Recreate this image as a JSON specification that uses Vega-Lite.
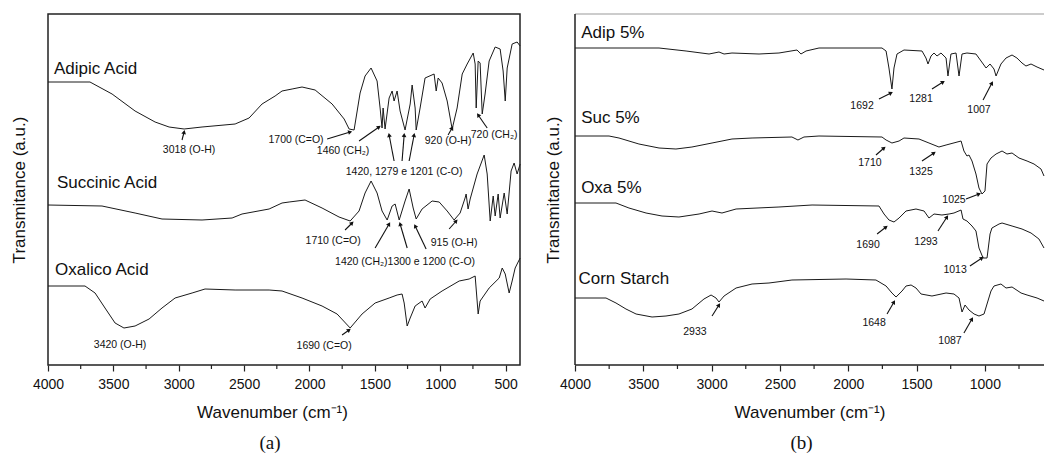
{
"$schema": "https://vega.github.io/schema/vega-lite/v6.json",
"padding": {"left": 9, "top": 13, "right": 0, "bottom": 0},
"autosize": {"type": "pad"},
"spacing": 21,
"config": {"view": {"stroke": null}, "font": "Liberation Sans", "axis": {"grid": false, "labelFont": "Liberation Sans", "titleFont": "Liberation Sans", "titleFontWeight": "normal", "labelColor": "#111", "titleColor": "#111", "tickColor": "#222"}},
"datasets": {
"ca": [
{"s":"Adipic","w":4000,"v":283},{"s":"Adipic","w":3679,"v":283},{"s":"Adipic","w":3510,"v":271},{"s":"Adipic","w":3334,"v":254},{"s":"Adipic","w":3181,"v":243},{"s":"Adipic","w":3074,"v":238},{"s":"Adipic","w":2959,"v":236},{"s":"Adipic","w":2822,"v":238},{"s":"Adipic","w":2569,"v":241},{"s":"Adipic","w":2462,"v":247},{"s":"Adipic","w":2363,"v":261},{"s":"Adipic","w":2263,"v":269},{"s":"Adipic","w":2210,"v":274},{"s":"Adipic","w":2133,"v":276},{"s":"Adipic","w":2057,"v":278},{"s":"Adipic","w":1957,"v":275},{"s":"Adipic","w":1827,"v":261},{"s":"Adipic","w":1735,"v":246},{"s":"Adipic","w":1697,"v":236},{"s":"Adipic","w":1659,"v":235},{"s":"Adipic","w":1613,"v":272},{"s":"Adipic","w":1575,"v":289},{"s":"Adipic","w":1529,"v":297},{"s":"Adipic","w":1483,"v":284},{"s":"Adipic","w":1460,"v":257},{"s":"Adipic","w":1445,"v":237},{"s":"Adipic","w":1437,"v":257},{"s":"Adipic","w":1422,"v":236},{"s":"Adipic","w":1391,"v":267},{"s":"Adipic","w":1368,"v":274},{"s":"Adipic","w":1353,"v":264},{"s":"Adipic","w":1330,"v":274},{"s":"Adipic","w":1307,"v":254},{"s":"Adipic","w":1269,"v":235},{"s":"Adipic","w":1230,"v":261},{"s":"Adipic","w":1215,"v":280},{"s":"Adipic","w":1192,"v":257},{"s":"Adipic","w":1184,"v":235},{"s":"Adipic","w":1154,"v":257},{"s":"Adipic","w":1116,"v":287},{"s":"Adipic","w":1047,"v":291},{"s":"Adipic","w":1031,"v":274},{"s":"Adipic","w":1016,"v":287},{"s":"Adipic","w":986,"v":282},{"s":"Adipic","w":947,"v":264},{"s":"Adipic","w":909,"v":236},{"s":"Adipic","w":871,"v":257},{"s":"Adipic","w":832,"v":291},{"s":"Adipic","w":794,"v":301},{"s":"Adipic","w":748,"v":312},{"s":"Adipic","w":733,"v":301},{"s":"Adipic","w":725,"v":257},{"s":"Adipic","w":710,"v":304},{"s":"Adipic","w":695,"v":302},{"s":"Adipic","w":679,"v":251},{"s":"Adipic","w":657,"v":271},{"s":"Adipic","w":626,"v":304},{"s":"Adipic","w":580,"v":318},{"s":"Adipic","w":542,"v":316},{"s":"Adipic","w":519,"v":294},{"s":"Adipic","w":503,"v":264},{"s":"Adipic","w":488,"v":297},{"s":"Adipic","w":450,"v":321},{"s":"Adipic","w":412,"v":323},{"s":"Adipic","w":389,"v":319},
{"s":"Succinic","w":4000,"v":160},{"s":"Succinic","w":3587,"v":159},{"s":"Succinic","w":3334,"v":152},{"s":"Succinic","w":3128,"v":146},{"s":"Succinic","w":2822,"v":145},{"s":"Succinic","w":2592,"v":147},{"s":"Succinic","w":2516,"v":151},{"s":"Succinic","w":2309,"v":156},{"s":"Succinic","w":2210,"v":162},{"s":"Succinic","w":2156,"v":163},{"s":"Succinic","w":2034,"v":165},{"s":"Succinic","w":1904,"v":157},{"s":"Succinic","w":1774,"v":148},{"s":"Succinic","w":1689,"v":144},{"s":"Succinic","w":1621,"v":154},{"s":"Succinic","w":1575,"v":172},{"s":"Succinic","w":1529,"v":184},{"s":"Succinic","w":1483,"v":172},{"s":"Succinic","w":1445,"v":154},{"s":"Succinic","w":1406,"v":145},{"s":"Succinic","w":1368,"v":159},{"s":"Succinic","w":1345,"v":161},{"s":"Succinic","w":1314,"v":145},{"s":"Succinic","w":1269,"v":164},{"s":"Succinic","w":1238,"v":176},{"s":"Succinic","w":1207,"v":157},{"s":"Succinic","w":1184,"v":146},{"s":"Succinic","w":1139,"v":156},{"s":"Succinic","w":1062,"v":164},{"s":"Succinic","w":1008,"v":163},{"s":"Succinic","w":947,"v":154},{"s":"Succinic","w":894,"v":145},{"s":"Succinic","w":848,"v":152},{"s":"Succinic","w":810,"v":167},{"s":"Succinic","w":802,"v":171},{"s":"Succinic","w":787,"v":156},{"s":"Succinic","w":771,"v":166},{"s":"Succinic","w":718,"v":191},{"s":"Succinic","w":664,"v":210},{"s":"Succinic","w":641,"v":191},{"s":"Succinic","w":618,"v":144},{"s":"Succinic","w":595,"v":169},{"s":"Succinic","w":580,"v":149},{"s":"Succinic","w":557,"v":171},{"s":"Succinic","w":542,"v":147},{"s":"Succinic","w":511,"v":172},{"s":"Succinic","w":488,"v":151},{"s":"Succinic","w":458,"v":194},{"s":"Succinic","w":435,"v":202},{"s":"Succinic","w":412,"v":191},{"s":"Succinic","w":389,"v":201},
{"s":"Oxalic","w":4000,"v":79},{"s":"Oxalic","w":3717,"v":79},{"s":"Oxalic","w":3640,"v":72},{"s":"Oxalic","w":3564,"v":57},{"s":"Oxalic","w":3487,"v":42},{"s":"Oxalic","w":3419,"v":37},{"s":"Oxalic","w":3334,"v":39},{"s":"Oxalic","w":3227,"v":46},{"s":"Oxalic","w":3128,"v":57},{"s":"Oxalic","w":3028,"v":67},{"s":"Oxalic","w":2898,"v":72},{"s":"Oxalic","w":2799,"v":76},{"s":"Oxalic","w":2569,"v":75},{"s":"Oxalic","w":2309,"v":75},{"s":"Oxalic","w":2210,"v":74},{"s":"Oxalic","w":2057,"v":67},{"s":"Oxalic","w":1904,"v":59},{"s":"Oxalic","w":1789,"v":51},{"s":"Oxalic","w":1689,"v":37},{"s":"Oxalic","w":1598,"v":51},{"s":"Oxalic","w":1498,"v":62},{"s":"Oxalic","w":1391,"v":67},{"s":"Oxalic","w":1330,"v":70},{"s":"Oxalic","w":1292,"v":71},{"s":"Oxalic","w":1276,"v":62},{"s":"Oxalic","w":1253,"v":39},{"s":"Oxalic","w":1230,"v":47},{"s":"Oxalic","w":1192,"v":59},{"s":"Oxalic","w":1139,"v":64},{"s":"Oxalic","w":1116,"v":57},{"s":"Oxalic","w":1077,"v":66},{"s":"Oxalic","w":986,"v":74},{"s":"Oxalic","w":855,"v":84},{"s":"Oxalic","w":779,"v":86},{"s":"Oxalic","w":733,"v":89},{"s":"Oxalic","w":710,"v":51},{"s":"Oxalic","w":695,"v":64},{"s":"Oxalic","w":626,"v":77},{"s":"Oxalic","w":549,"v":87},{"s":"Oxalic","w":526,"v":97},{"s":"Oxalic","w":503,"v":91},{"s":"Oxalic","w":473,"v":72},{"s":"Oxalic","w":450,"v":84},{"s":"Oxalic","w":427,"v":97},{"s":"Oxalic","w":389,"v":107}
],
"cb": [
{"s":"Adip","w":4000,"v":317},{"s":"Adip","w":3385,"v":317},{"s":"Adip","w":3187,"v":314},{"s":"Adip","w":3019,"v":311},{"s":"Adip","w":2946,"v":313},{"s":"Adip","w":2909,"v":311},{"s":"Adip","w":2851,"v":312},{"s":"Adip","w":2653,"v":311},{"s":"Adip","w":2507,"v":312},{"s":"Adip","w":2375,"v":315},{"s":"Adip","w":2346,"v":311},{"s":"Adip","w":2309,"v":314},{"s":"Adip","w":2214,"v":317},{"s":"Adip","w":1753,"v":317},{"s":"Adip","w":1723,"v":314},{"s":"Adip","w":1702,"v":297},{"s":"Adip","w":1680,"v":276},{"s":"Adip","w":1665,"v":297},{"s":"Adip","w":1643,"v":311},{"s":"Adip","w":1592,"v":315},{"s":"Adip","w":1460,"v":314},{"s":"Adip","w":1431,"v":307},{"s":"Adip","w":1416,"v":301},{"s":"Adip","w":1394,"v":309},{"s":"Adip","w":1372,"v":312},{"s":"Adip","w":1350,"v":309},{"s":"Adip","w":1321,"v":312},{"s":"Adip","w":1284,"v":307},{"s":"Adip","w":1270,"v":289},{"s":"Adip","w":1248,"v":311},{"s":"Adip","w":1211,"v":312},{"s":"Adip","w":1189,"v":289},{"s":"Adip","w":1167,"v":311},{"s":"Adip","w":1131,"v":312},{"s":"Adip","w":1065,"v":311},{"s":"Adip","w":1028,"v":304},{"s":"Adip","w":991,"v":297},{"s":"Adip","w":962,"v":301},{"s":"Adip","w":933,"v":296},{"s":"Adip","w":918,"v":289},{"s":"Adip","w":882,"v":301},{"s":"Adip","w":845,"v":307},{"s":"Adip","w":801,"v":310},{"s":"Adip","w":765,"v":307},{"s":"Adip","w":728,"v":302},{"s":"Adip","w":699,"v":299},{"s":"Adip","w":662,"v":301},{"s":"Adip","w":618,"v":298},{"s":"Adip","w":567,"v":295},
{"s":"Suc","w":4000,"v":229},{"s":"Suc","w":3751,"v":229},{"s":"Suc","w":3678,"v":227},{"s":"Suc","w":3532,"v":221},{"s":"Suc","w":3385,"v":217},{"s":"Suc","w":3261,"v":216},{"s":"Suc","w":3144,"v":218},{"s":"Suc","w":2997,"v":222},{"s":"Suc","w":2851,"v":226},{"s":"Suc","w":2704,"v":227},{"s":"Suc","w":2412,"v":228},{"s":"Suc","w":2368,"v":225},{"s":"Suc","w":2324,"v":228},{"s":"Suc","w":2214,"v":229},{"s":"Suc","w":1753,"v":228},{"s":"Suc","w":1723,"v":225},{"s":"Suc","w":1680,"v":222},{"s":"Suc","w":1628,"v":224},{"s":"Suc","w":1592,"v":227},{"s":"Suc","w":1482,"v":226},{"s":"Suc","w":1409,"v":222},{"s":"Suc","w":1336,"v":218},{"s":"Suc","w":1284,"v":220},{"s":"Suc","w":1174,"v":224},{"s":"Suc","w":1153,"v":214},{"s":"Suc","w":1131,"v":209},{"s":"Suc","w":1116,"v":210},{"s":"Suc","w":1094,"v":204},{"s":"Suc","w":1065,"v":191},{"s":"Suc","w":1043,"v":177},{"s":"Suc","w":1021,"v":171},{"s":"Suc","w":999,"v":174},{"s":"Suc","w":984,"v":201},{"s":"Suc","w":955,"v":207},{"s":"Suc","w":918,"v":211},{"s":"Suc","w":874,"v":214},{"s":"Suc","w":838,"v":211},{"s":"Suc","w":801,"v":212},{"s":"Suc","w":750,"v":207},{"s":"Suc","w":691,"v":204},{"s":"Suc","w":640,"v":201},{"s":"Suc","w":589,"v":196},{"s":"Suc","w":567,"v":189},
{"s":"Oxa","w":4000,"v":162},{"s":"Oxa","w":3700,"v":162},{"s":"Oxa","w":3605,"v":157},{"s":"Oxa","w":3480,"v":152},{"s":"Oxa","w":3363,"v":149},{"s":"Oxa","w":3239,"v":148},{"s":"Oxa","w":3092,"v":151},{"s":"Oxa","w":2997,"v":154},{"s":"Oxa","w":2924,"v":152},{"s":"Oxa","w":2821,"v":156},{"s":"Oxa","w":2507,"v":158},{"s":"Oxa","w":2265,"v":160},{"s":"Oxa","w":1775,"v":159},{"s":"Oxa","w":1738,"v":151},{"s":"Oxa","w":1702,"v":145},{"s":"Oxa","w":1665,"v":143},{"s":"Oxa","w":1628,"v":147},{"s":"Oxa","w":1577,"v":154},{"s":"Oxa","w":1504,"v":156},{"s":"Oxa","w":1445,"v":154},{"s":"Oxa","w":1409,"v":147},{"s":"Oxa","w":1372,"v":151},{"s":"Oxa","w":1314,"v":150},{"s":"Oxa","w":1262,"v":151},{"s":"Oxa","w":1226,"v":152},{"s":"Oxa","w":1174,"v":155},{"s":"Oxa","w":1160,"v":146},{"s":"Oxa","w":1131,"v":144},{"s":"Oxa","w":1094,"v":139},{"s":"Oxa","w":1065,"v":134},{"s":"Oxa","w":1043,"v":117},{"s":"Oxa","w":1013,"v":107},{"s":"Oxa","w":984,"v":107},{"s":"Oxa","w":962,"v":131},{"s":"Oxa","w":948,"v":137},{"s":"Oxa","w":896,"v":141},{"s":"Oxa","w":874,"v":142},{"s":"Oxa","w":801,"v":139},{"s":"Oxa","w":728,"v":136},{"s":"Oxa","w":662,"v":132},{"s":"Oxa","w":604,"v":126},{"s":"Oxa","w":567,"v":117},
{"s":"Corn","w":4000,"v":67},{"s":"Corn","w":3773,"v":67},{"s":"Corn","w":3700,"v":62},{"s":"Corn","w":3627,"v":56},{"s":"Corn","w":3553,"v":51},{"s":"Corn","w":3436,"v":48},{"s":"Corn","w":3334,"v":49},{"s":"Corn","w":3239,"v":51},{"s":"Corn","w":3144,"v":56},{"s":"Corn","w":3056,"v":66},{"s":"Corn","w":3004,"v":70},{"s":"Corn","w":2968,"v":67},{"s":"Corn","w":2946,"v":63},{"s":"Corn","w":2909,"v":69},{"s":"Corn","w":2821,"v":77},{"s":"Corn","w":2704,"v":81},{"s":"Corn","w":2580,"v":82},{"s":"Corn","w":2412,"v":85},{"s":"Corn","w":2016,"v":86},{"s":"Corn","w":1797,"v":85},{"s":"Corn","w":1723,"v":79},{"s":"Corn","w":1680,"v":72},{"s":"Corn","w":1650,"v":68},{"s":"Corn","w":1606,"v":74},{"s":"Corn","w":1577,"v":79},{"s":"Corn","w":1540,"v":80},{"s":"Corn","w":1504,"v":77},{"s":"Corn","w":1467,"v":71},{"s":"Corn","w":1387,"v":69},{"s":"Corn","w":1284,"v":72},{"s":"Corn","w":1226,"v":71},{"s":"Corn","w":1189,"v":67},{"s":"Corn","w":1167,"v":53},{"s":"Corn","w":1145,"v":60},{"s":"Corn","w":1116,"v":55},{"s":"Corn","w":1079,"v":51},{"s":"Corn","w":1043,"v":49},{"s":"Corn","w":1006,"v":51},{"s":"Corn","w":984,"v":61},{"s":"Corn","w":955,"v":74},{"s":"Corn","w":933,"v":79},{"s":"Corn","w":882,"v":81},{"s":"Corn","w":845,"v":77},{"s":"Corn","w":801,"v":78},{"s":"Corn","w":735,"v":72},{"s":"Corn","w":691,"v":70},{"s":"Corn","w":618,"v":67},{"s":"Corn","w":567,"v":64}
],
"na": [
{"w":3954,"v":291,"t":"Adipic Acid"},{"w":3931,"v":177,"t":"Succinic Acid"},{"w":3946,"v":90,"t":"Oxalico Acid"}
],
"nb": [
{"w":3955,"v":327,"t":"Adip 5%"},{"w":3955,"v":242,"t":"Suc 5%"},{"w":3955,"v":172,"t":"Oxa 5%"},{"w":3975,"v":81,"t":"Corn Starch"}
],
"ta": [
{"w":2921,"v":212,"t":"3018 (O-H)"},{"w":2103,"v":222,"t":"1700 (C=O)"},{"w":1743,"v":211,"t":"1460 (CH₂)"},{"w":1276,"v":190,"t":"1420, 1279 e 1201 (C-O)"},{"w":940,"v":221,"t":"920 (O-H)"},{"w":588,"v":227,"t":"720 (CH₂)"},{"w":1819,"v":121,"t":"1710 (C=O)"},{"w":894,"v":119,"t":"915 (O-H)"},{"w":1269,"v":100,"t":"1420 (CH₂)1300 e 1200 (C-O)"},{"w":3449,"v":17,"t":"3420 (O-H)"},{"w":1888,"v":16,"t":"1690 (C=O)"}
],
"tb": [
{"w":1899,"v":256,"t":"1692"},{"w":1467,"v":263,"t":"1281"},{"w":1043,"v":252,"t":"1007"},{"w":1841,"v":199,"t":"1710"},{"w":1467,"v":190,"t":"1325"},{"w":1226,"v":162,"t":"1025"},{"w":1855,"v":117,"t":"1690"},{"w":1431,"v":120,"t":"1293"},{"w":1218,"v":92,"t":"1013"},{"w":3122,"v":30,"t":"2933"},{"w":1811,"v":39,"t":"1648"},{"w":1255,"v":21,"t":"1087"}
],
"aa": [
{"w":2975,"v":225,"wt":2959,"vt":233,"ang":14},{"w":1865,"v":226,"wt":1689,"vt":233,"ang":73},{"w":1621,"v":224,"wt":1468,"vt":238,"ang":55},{"w":1353,"v":204,"wt":1391,"vt":230,"ang":-11},{"w":1292,"v":204,"wt":1276,"vt":230,"ang":4},{"w":1238,"v":204,"wt":1200,"vt":230,"ang":11},{"w":940,"v":230,"wt":909,"vt":237,"ang":30},{"w":641,"v":237,"wt":710,"vt":250,"ang":-35},{"w":1728,"v":135,"wt":1674,"vt":142,"ang":45},{"w":932,"v":136,"wt":878,"vt":144,"ang":41},{"w":1498,"v":117,"wt":1391,"vt":141,"ang":30},{"w":1253,"v":117,"wt":1307,"vt":141,"ang":-16},{"w":1108,"v":116,"wt":1192,"vt":139,"ang":-26},{"w":1751,"v":30,"wt":1697,"vt":35,"ang":54}
],
"ab": [
{"w":1775,"v":266,"wt":1687,"vt":272,"ang":63},{"w":1387,"v":276,"wt":1306,"vt":283,"ang":58},{"w":1013,"v":265,"wt":948,"vt":282,"ang":28},{"w":1797,"v":210,"wt":1738,"vt":217,"ang":49},{"w":1460,"v":204,"wt":1372,"vt":212,"ang":56},{"w":1138,"v":166,"wt":1043,"vt":171,"ang":69},{"w":1789,"v":131,"wt":1723,"vt":138,"ang":52},{"w":1343,"v":134,"wt":1277,"vt":148,"ang":33},{"w":1109,"v":99,"wt":1021,"vt":107,"ang":56},{"w":2997,"v":49,"wt":2946,"vt":60,"ang":32},{"w":1716,"v":51,"wt":1665,"vt":63,"ang":30},{"w":1153,"v":32,"wt":1094,"vt":46,"ang":30}
],
"ma": [{"w":3750},{"w":3250},{"w":2750},{"w":2250},{"w":1750},{"w":1250},{"w":750}],
"frame": [{"top":351,"bottom":0,"left":4000}]
},
"hconcat": [
{
"width": 472, "height": 351,
"view": {"stroke": "#222", "strokeWidth": 1.5},
"title": {"text": "(a)", "orient": "bottom", "font": "Liberation Serif", "fontSize": 19, "fontWeight": "normal", "color": "#111", "dx": -14, "offset": 14},
"layer": [
{"data": {"name": "ca"}, "mark": {"type": "line", "color": "#1a1a1a", "strokeWidth": 1},
 "encoding": {
  "x": {"field": "w", "type": "quantitative", "scale": {"domain": [390, 4000], "reverse": true, "nice": false, "zero": false},
   "axis": {"title": "Wavenumber (cm⁻¹)", "values": [4000,3500,3000,2500,2000,1500,1000,500], "format": "d", "domain": false, "tickSize": 6, "tickWidth": 1.2, "labelFontSize": 14, "labelPadding": 6, "labelOverlap": false, "labelFlush": false, "titleFontSize": 17, "titlePadding": 13, "titleX": 224}},
  "y": {"field": "v", "type": "quantitative", "scale": {"domain": [0, 351], "nice": false, "zero": false},
   "axis": {"title": "Transmitance (a.u.)", "labels": false, "ticks": false, "domain": false, "titleFontSize": 17, "titlePadding": 20}},
  "detail": {"field": "s"}
 }},
{"data": {"name": "ma"}, "mark": {"type": "rule", "color": "#222", "strokeWidth": 1.2, "clip": false},
 "encoding": {"x": {"field": "w", "type": "quantitative"}, "y": {"datum": 0}, "y2": {"datum": -4}}},
{"data": {"name": "na"}, "mark": {"type": "text", "align": "left", "baseline": "alphabetic", "fontSize": 17, "color": "#111"},
 "encoding": {"x": {"field": "w", "type": "quantitative"}, "y": {"field": "v", "type": "quantitative"}, "text": {"field": "t"}}},
{"data": {"name": "ta"}, "mark": {"type": "text", "align": "center", "baseline": "alphabetic", "fontSize": 10.5, "color": "#111"},
 "encoding": {"x": {"field": "w", "type": "quantitative"}, "y": {"field": "v", "type": "quantitative"}, "text": {"field": "t"}}},
{"data": {"name": "aa"}, "mark": {"type": "rule", "color": "#111", "strokeWidth": 1.1},
 "encoding": {"x": {"field": "w", "type": "quantitative"}, "y": {"field": "v", "type": "quantitative"}, "x2": {"field": "wt"}, "y2": {"field": "vt"}}},
{"data": {"name": "aa"}, "mark": {"type": "point", "shape": "triangle-up", "filled": true, "color": "#111", "size": 22, "opacity": 1},
 "encoding": {"x": {"field": "wt", "type": "quantitative"}, "y": {"field": "vt", "type": "quantitative"}, "angle": {"field": "ang", "type": "quantitative", "scale": null}}}
]
},
{
"width": 469, "height": 351,
"title": {"text": "(b)", "orient": "bottom", "font": "Liberation Serif", "fontSize": 19, "fontWeight": "normal", "color": "#111", "dx": -8, "offset": 14},
"layer": [
{"data": {"name": "cb"}, "mark": {"type": "line", "color": "#1a1a1a", "strokeWidth": 1},
 "encoding": {
  "x": {"field": "w", "type": "quantitative", "scale": {"domain": [567, 4000], "reverse": true, "nice": false, "zero": false},
   "axis": {"title": "Wavenumber (cm⁻¹)", "values": [4000,3500,3000,2500,2000,1500,1000], "format": "d", "domain": false, "tickSize": 6, "tickWidth": 1.2, "labelFontSize": 14, "labelPadding": 6, "labelOverlap": false, "labelFlush": false, "titleFontSize": 17, "titlePadding": 13}},
  "y": {"field": "v", "type": "quantitative", "scale": {"domain": [0, 351], "nice": false, "zero": false},
   "axis": {"title": "Transmitance (a.u.)", "labels": false, "ticks": false, "domain": false, "titleFontSize": 17, "titlePadding": 13}},
  "detail": {"field": "s"}
 }},
{"data": {"name": "ma"}, "mark": {"type": "rule", "color": "#222", "strokeWidth": 1.2, "clip": false},
 "encoding": {"x": {"field": "w", "type": "quantitative"}, "y": {"datum": 0}, "y2": {"datum": -4}}},
{"data": {"name": "frame"}, "mark": {"type": "rule", "color": "#999", "strokeWidth": 1.2}, "encoding": {"y": {"field": "top", "type": "quantitative"}}},
{"data": {"name": "frame"}, "mark": {"type": "rule", "color": "#222", "strokeWidth": 1.5}, "encoding": {"y": {"field": "bottom", "type": "quantitative"}}},
{"data": {"name": "frame"}, "mark": {"type": "rule", "color": "#222", "strokeWidth": 1.5}, "encoding": {"x": {"field": "left", "type": "quantitative"}}},
{"data": {"name": "nb"}, "mark": {"type": "text", "align": "left", "baseline": "alphabetic", "fontSize": 17, "color": "#111"},
 "encoding": {"x": {"field": "w", "type": "quantitative"}, "y": {"field": "v", "type": "quantitative"}, "text": {"field": "t"}}},
{"data": {"name": "tb"}, "mark": {"type": "text", "align": "center", "baseline": "alphabetic", "fontSize": 10.5, "color": "#111"},
 "encoding": {"x": {"field": "w", "type": "quantitative"}, "y": {"field": "v", "type": "quantitative"}, "text": {"field": "t"}}},
{"data": {"name": "ab"}, "mark": {"type": "rule", "color": "#111", "strokeWidth": 1.1},
 "encoding": {"x": {"field": "w", "type": "quantitative"}, "y": {"field": "v", "type": "quantitative"}, "x2": {"field": "wt"}, "y2": {"field": "vt"}}},
{"data": {"name": "ab"}, "mark": {"type": "point", "shape": "triangle-up", "filled": true, "color": "#111", "size": 22, "opacity": 1},
 "encoding": {"x": {"field": "wt", "type": "quantitative"}, "y": {"field": "vt", "type": "quantitative"}, "angle": {"field": "ang", "type": "quantitative", "scale": null}}}
]
}
]
}
